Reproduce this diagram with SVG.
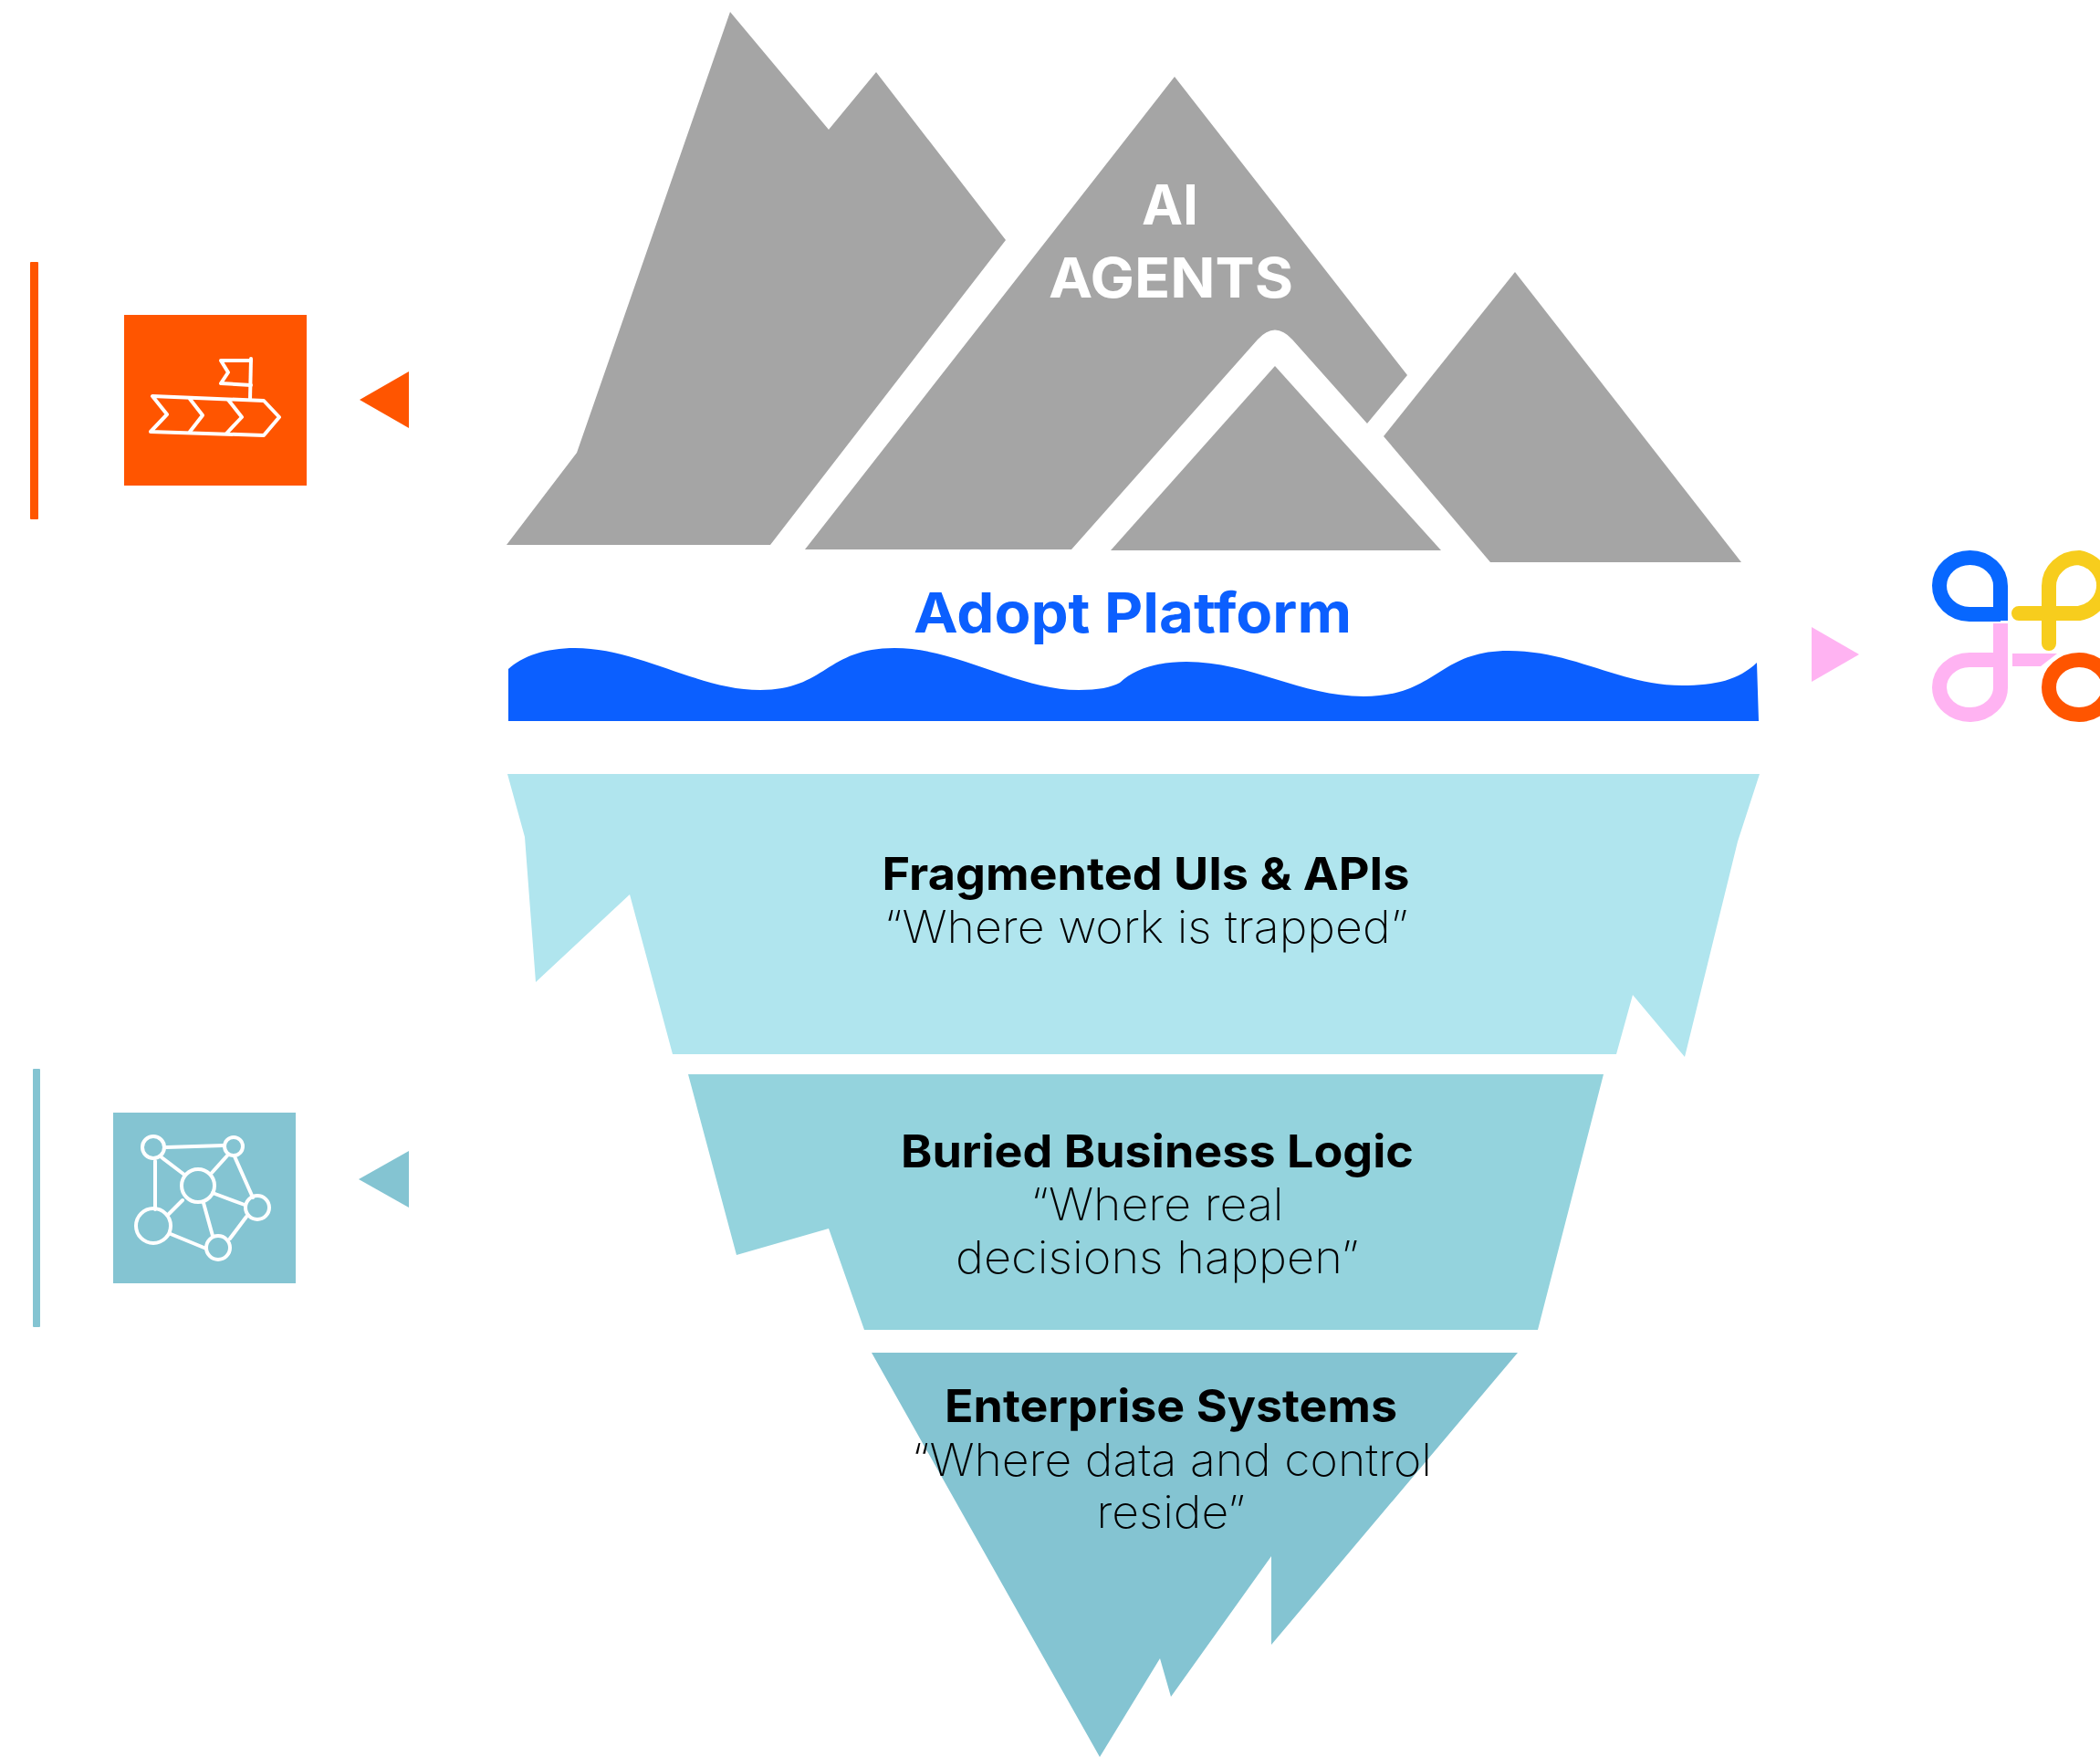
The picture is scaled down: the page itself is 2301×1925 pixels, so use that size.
<svg xmlns="http://www.w3.org/2000/svg" width="2301" height="1925" viewBox="0 0 2301 1925">
<style>
text{font-family:Inter,"Liberation Sans",sans-serif;text-anchor:middle}
.h{font-weight:700;font-size:50px;fill:#000}
.q{font-weight:250;font-size:49px;fill:#000}
.t{font-weight:700;font-size:61px}
.ic{fill:none;stroke:#fff;stroke-width:4;stroke-linejoin:round;stroke-linecap:round}
.lg{fill:none;stroke-width:16}
</style>
<rect width="2301" height="1925" fill="#fff"/>
<g id="peaks" fill="#a5a5a5">
<polygon id="peak-left" points="555,597 632,496 800,13 908,142 960,79 1102,263 844,597"/>
<path id="peak-center" d="M882 602L1287 84L1542 411L1498 464L1416 372Q1397 351 1378 372L1174 602Z"/>
<polygon id="peak-small" points="1217,603 1397,401 1579,603"/>
<polygon id="peak-right" points="1516,478 1660,298 1908,616 1633,616"/>
</g>
<g id="agents-label"><text x="1282" y="246" class="t" fill="#fff" textLength="62" lengthAdjust="spacingAndGlyphs">AI</text><text x="1283" y="326" class="t" fill="#fff" textLength="268" lengthAdjust="spacingAndGlyphs">AGENTS</text></g>
<g id="adopt-platform">
<text x="1241" y="693" class="t" fill="#0b5fff" textLength="480" lengthAdjust="spacingAndGlyphs">Adopt Platform</text>
<path fill="#0b5fff" d="M557 733C572 719 598 710 630 710C700 710 765 756 833 756C905 756 905 710 980 710C1050 710 1115 756 1182 756C1203 756 1218 753 1227 748C1243 733 1268 725 1300 725C1370 725 1425 763 1494 763C1575 763 1575 713 1653 713C1725 713 1775 751 1843 751C1880 751 1905 745 1925 726L1927 790H557Z"/>
</g>
<g id="layer-ui">
<polygon fill="#b0e5ee" points="556,848 1928,848 1904,922 1846,1158 1789,1090 1771,1155 737,1155 690,980 587,1076 575,917"/>
<text x="1255.500" y="975" class="h" textLength="578" lengthAdjust="spacingAndGlyphs">Fragmented UIs &amp; APIs</text>
<text x="1256" y="1033" class="q" textLength="574" lengthAdjust="spacingAndGlyphs">“Where work is trapped”</text>
</g>
<g id="layer-logic">
<polygon fill="#94d3dd" points="754,1177 1757,1177 1685,1457 947,1457 908,1346 807,1375"/>
<text x="1268" y="1279" class="h" textLength="562" lengthAdjust="spacingAndGlyphs">Buried Business Logic</text>
<text x="1268" y="1337" class="q" textLength="277" lengthAdjust="spacingAndGlyphs">“Where real</text>
<text x="1268" y="1395" class="q" textLength="442" lengthAdjust="spacingAndGlyphs">decisions happen”</text>
</g>
<g id="layer-systems">
<polygon fill="#84c4d2" points="955,1482 1663,1482 1393,1802 1393,1705 1283,1859 1271,1817 1205,1925"/>
<text x="1283" y="1558" class="h" textLength="496" lengthAdjust="spacingAndGlyphs">Enterprise Systems</text>
<text x="1284" y="1617" class="q" textLength="570" lengthAdjust="spacingAndGlyphs">“Where data and control</text>
<text x="1283" y="1674" class="q" textLength="163" lengthAdjust="spacingAndGlyphs">reside”</text>
</g>
<g id="agents-marker" fill="#ff5500">
<rect x="33" y="287" width="9" height="282" rx="1"/>
<rect x="136" y="345" width="200" height="187"/>
<polygon points="394,438 448,407 448,469"/>
<g class="ic"><path d="M167 434L289 439L306 457L289 477L165 473L183 454Z"/><path d="M208 437L222 455L208 473"/><path d="M250 438L265 457L248 475"/><path d="M275 393L274 438"/><path d="M275 395L242 395L250 408L242 420L275 422"/></g>
</g>
<g id="logo-marker">
<polygon fill="#ffb3f2" points="1985,687 2037,717 1985,747"/>
<path class="lg" stroke="#ffb3f2" d="M2192 683V752A33.500 30 0 1 1 2158 723H2192"/>
<polygon fill="#ffb3f2" points="2205,716 2254,716 2236,730 2205,730"/>
<path class="lg" stroke="#f7cd1d" stroke-linecap="round" d="M2212 672H2278A33 31 0 0 0 2278 611A33 31 0 0 0 2245 642V705"/>
<path class="lg" stroke="#0767ff" d="M2192 680V642A33.500 31 0 1 0 2158 673H2192"/>
<ellipse class="lg" stroke="#ff5500" cx="2278" cy="753" rx="33" ry="30"/>
</g>
<g id="systems-marker" fill="#84c4d2">
<rect x="36" y="1171" width="8" height="283" rx="1"/>
<rect x="124" y="1219" width="200" height="187"/>
<polygon points="393,1292 448,1261 448,1323"/>
<g class="ic"><circle cx="168" cy="1257" r="12"/><circle cx="256" cy="1256" r="10"/><circle cx="217" cy="1299" r="18"/><circle cx="168" cy="1343" r="19"/><circle cx="282" cy="1323" r="13"/><circle cx="239" cy="1367" r="13"/>
<path d="M182 1257L245 1255M177 1268L202 1287M250 1265L232 1285M170 1272L170 1325M257 1267L277 1312M233 1307L268 1320M200 1315L185 1330M223 1318L233 1354M270 1333L252 1357M187 1352L226 1368"/></g>
</g>
</svg>
